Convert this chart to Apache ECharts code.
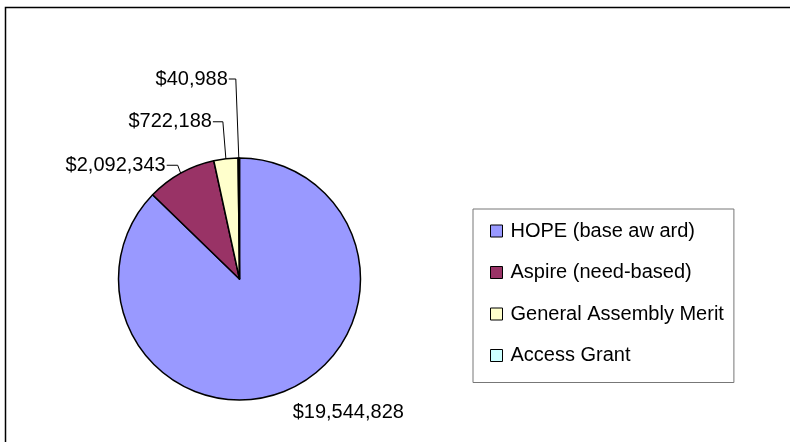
<!DOCTYPE html>
<html>
<head>
<meta charset="utf-8">
<script src="https://cdn.jsdelivr.net/npm/echarts@6/dist/echarts.min.js"></script>
<style>
html,body{margin:0;padding:0;background:#fff;}
#chart{width:790px;height:442px;}
</style>
</head>
<body>
<div id="chart"></div>
<script>
const categories = ['HOPE (base aw ard)', 'Aspire (need-based)', 'General Assembly Merit', 'Access Grant'];
const values = [19544828, 2092343, 722188, 40988];
const colors = ['#9999FF', '#993366', '#FFFFCC', '#CCFFFF'];
// label placement relative to the slice's edge anchor: [dx of label edge, dy]
const labelOffsets = [[6, 22], [-15, -8], [-14, -37], [-11, -79]];

const fmt = v => '$' + v.toLocaleString('en-US');

const chart = echarts.init(document.getElementById('chart'), null, {renderer: 'canvas'});
const FONT = 'Liberation Sans, Arial, sans-serif';

chart.setOption({
  animation: false,
  backgroundColor: '#ffffff',
  graphic: [{
    type: 'rect',
    shape: {x: 5.5, y: 7.5, width: 900, height: 600},
    style: {fill: 'none', stroke: '#000', lineWidth: 1.5},
    silent: true,
    z: -1
  }],
  legend: {
    orient: 'vertical',
    left: 473,
    top: 209,
    padding: [12, 10, 17, 17],
    itemGap: 21.5,
    itemWidth: 12,
    itemHeight: 12,
    icon: 'rect',
    borderColor: '#777777',
    borderWidth: 1,
    textStyle: {fontFamily: FONT, fontSize: 20, color: '#000', padding: [0, 0, 0, 3]},
    itemStyle: {borderColor: '#000', borderWidth: 1},
    data: categories
  },
  series: [{
    type: 'pie',
    center: [239.5, 279],
    radius: 121,
    startAngle: 90,
    clockwise: true,
    avoidLabelOverlap: false,
    itemStyle: {borderColor: '#000', borderWidth: 1.5},
    label: {
      show: true,
      position: 'outside',
      fontFamily: FONT,
      fontSize: 20,
      color: '#000',
      formatter: p => fmt(p.value)
    },
    labelLine: {show: true, length: 10, length2: 10, lineStyle: {color: '#000', width: 1}},
    labelLayout: function (params) {
      const idx = params.dataIndex;
      const pts = params.labelLinePoints;
      const off = labelOffsets[idx];
      if (!pts) return {};
      const a = pts[0];
      const ly = a[1] + off[1];
      if (idx === 0) {
        return {
          x: a[0] + off[0], y: ly, align: 'left', verticalAlign: 'middle',
          labelLinePoints: [a, a, a]
        };
      }
      const lx = a[0] + off[0];
      return {
        x: lx, y: ly, align: 'right', verticalAlign: 'middle',
        labelLinePoints: [a, [a[0] - 3, ly], [lx + 1, ly]]
      };
    },
    data: categories.map((c, i) => ({
      name: c,
      value: values[i],
      itemStyle: {color: colors[i]}
    }))
  }]
});
</script>
</body>
</html>
